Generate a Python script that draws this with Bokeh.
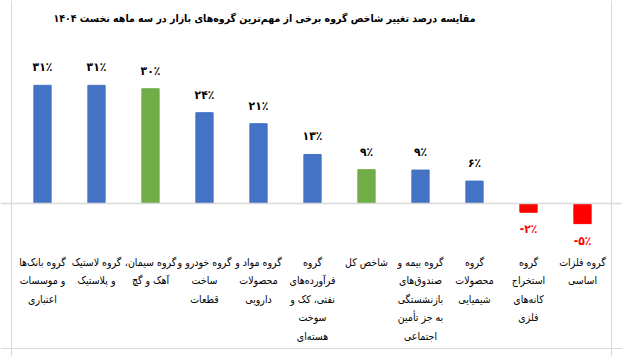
from bokeh.plotting import figure
from bokeh.models import ColumnDataSource, Range1d, Span, Label
from bokeh.core.properties import value
from bokeh.embed import file_html
from bokeh.resources import INLINE

title_text = "مقایسه درصد تغییر شاخص گروه برخی از مهم‌ترین گروه‌های بازار در سه ماهه نخست ۱۴۰۴"

categories = [
    "گروه بانک‌ها\nو موسسات\nاعتباری",
    "گروه لاستیک\nو پلاستیک",
    "گروه سیمان،\u200f\nآهک و گچ",
    "گروه خودرو و\nساخت\nقطعات",
    "گروه مواد و\nمحصولات\nدارویی",
    "گروه\nفرآورده‌های\nنفتی، کک و\nسوخت\nهسته‌ای",
    "شاخص کل",
    "گروه بیمه و\nصندوق‌های\nبازنشستگی\nبه جز تأمین\nاجتماعی",
    "گروه\nمحصولات\nشیمیایی",
    "گروه\nاستخراج\nکانه‌های\nفلزی",
    "گروه فلزات\nاساسی",
]
values = [31.1, 31.1, 30.2, 23.9, 21.0, 12.9, 8.9, 8.8, 5.9, -2.3, -5.3]
value_labels = ["۳۱٪", "۳۱٪", "۳۰٪", "۲۴٪", "۲۱٪", "۱۳٪", "۹٪", "۹٪", "۶٪", "-۲٪", "-۵٪"]
bar_colors = ["#4472C4", "#4472C4", "#70AD47", "#4472C4", "#4472C4", "#4472C4",
              "#70AD47", "#4472C4", "#4472C4", "#FF0000", "#FF0000"]

FONT = value("DejaVu Sans Condensed")

idx = list(range(len(categories)))
label_colors = ["#FF0000" if v < 0 else "#000000" for v in values]

pos = [i for i in idx if values[i] >= 0]
neg = [i for i in idx if values[i] < 0]

src = ColumnDataSource(dict(x=idx, top=values, color=bar_colors, cat=categories,
                            zero=[0] * len(idx)))
src_pos = ColumnDataSource(dict(x=pos, y=[values[i] for i in pos],
                                t=[value_labels[i] for i in pos],
                                c=[label_colors[i] for i in pos]))
src_neg = ColumnDataSource(dict(x=neg, y=[values[i] for i in neg],
                                t=[value_labels[i] for i in neg],
                                c=[label_colors[i] for i in neg]))

W, H = 622, 356
px_per_unit_x = 54.0
px_per_unit_y = 3.8
x0_px = 42.0    # first bar centre, from the figure's left edge
zero_px = 203.0  # zero line, from the figure's top edge

p = figure(width=W, height=H, output_backend="svg", toolbar_location=None,
           min_border=0, min_border_left=0, min_border_right=0,
           min_border_top=0, min_border_bottom=0,
           x_range=Range1d(-x0_px / px_per_unit_x, (W - x0_px) / px_per_unit_x),
           y_range=Range1d(-(H - zero_px) / px_per_unit_y, zero_px / px_per_unit_y))
p.axis.visible = False
p.grid.visible = False
p.outline_line_color = None
p.background_fill_color = "white"
p.border_fill_color = "white"

# chart border (left, right, bottom)
for loc in [(11 - x0_px) / px_per_unit_x, (611 - x0_px) / px_per_unit_x]:
    p.add_layout(Span(location=loc, dimension="height", line_color="#D9D9D9", line_width=1))
p.add_layout(Span(location=-(348 - zero_px) / px_per_unit_y, dimension="width",
                  line_color="#D9D9D9", line_width=1))

# zero line
p.add_layout(Span(location=0, dimension="width", line_color="#D9D9D9", line_width=1.5))

p.vbar(x="x", top="top", bottom=0, width=0.32, color="color", source=src)

p.text(x="x", y="y", text="t", text_color="c", source=src_pos,
       text_font=FONT, text_font_style="bold", text_font_size="12px",
       text_align="center", text_baseline="bottom", y_offset=-11)
p.text(x="x", y="y", text="t", text_color="c", source=src_neg,
       text_font=FONT, text_font_style="bold", text_font_size="12px",
       text_align="center", text_baseline="top", y_offset=10)

p.text(x="x", y="zero", text="cat", source=src, text_color="#000000",
       text_font=FONT, text_font_size="10.5px", text_align="center",
       text_baseline="top", y_offset=52, text_line_height=1.55)

p.add_layout(Label(x=264, y=H - 17, x_units="screen", y_units="screen",
                   text=title_text, text_font="DejaVu Sans Condensed", text_font_style="bold",
                   text_font_size="10.5px", text_align="center", text_baseline="middle",
                   text_color="#000000"))

open("out.html", "w").write(file_html(p, INLINE))
